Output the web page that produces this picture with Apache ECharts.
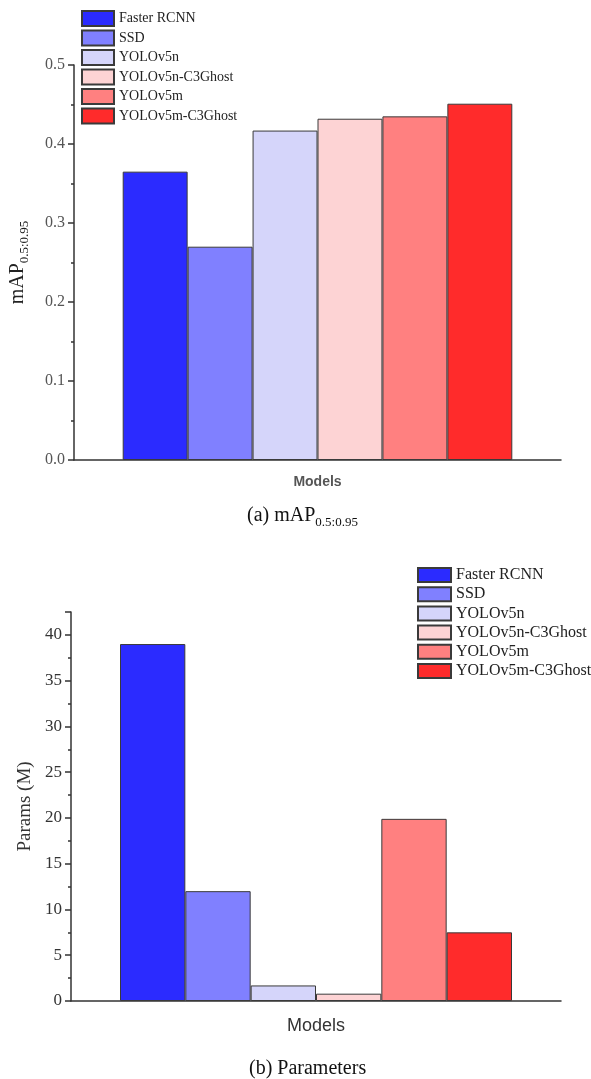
<!DOCTYPE html>
<html>
<head>
<meta charset="utf-8">
<script src="https://cdn.jsdelivr.net/npm/echarts@6/dist/echarts.min.js"></script>
<style>html,body{margin:0;padding:0;background:#fff;}#c{width:591px;height:1079px;}</style>
</head>
<body>
<div id="c"></div>
<script>
// ---- data ----
const categories = ['Models'];
const modelNames = ['Faster RCNN', 'SSD', 'YOLOv5n', 'YOLOv5n-C3Ghost', 'YOLOv5m', 'YOLOv5m-C3Ghost'];
const mapValues = [0.365, 0.270, 0.417, 0.432, 0.435, 0.451];
const paramValues = [39.0, 12.0, 1.7, 0.8, 19.9, 7.5];
const barColors = ['#2B2BFF', '#8080FF', '#D5D5FA', '#FDD3D4', '#FF8080', '#FF2B2B'];

const serif = 'Liberation Serif';
const chart = echarts.init(document.getElementById('c'), null, {renderer: 'canvas'});

function makeSeries(values, gridIdx) {
  return modelNames.map((name, i) => ({
    type: 'bar',
    name: name,
    xAxisIndex: gridIdx,
    yAxisIndex: gridIdx,
    data: [values[i]],
    barGap: '0%',
    barCategoryGap: '20%',
    itemStyle: {color: barColors[i], borderColor: '#3a3a3a', borderWidth: 1},
    emphasis: {disabled: true},
    animation: false
  }));
}

const axisLineStyle = {color: '#333', width: 1.5};

chart.setOption({
  animation: false,
  title: [
    {
      text: '{a|(a) mAP}{b|0.5:0.95}',
      left: 247, top: 503, padding: 0,
      textStyle: {
        fontWeight: 'normal',
        rich: {
          a: {fontFamily: serif, fontSize: 20, fontWeight: 'normal', color: '#111', lineHeight: 26, verticalAlign: 'middle'},
          b: {fontFamily: serif, fontSize: 13, fontWeight: 'normal', color: '#111', lineHeight: 26, verticalAlign: 'bottom'}
        }
      }
    },
    {
      text: '(b) Parameters',
      left: 249, top: 1059, padding: 0,
      textStyle: {fontFamily: serif, fontSize: 20, fontWeight: 'normal', color: '#111'}
    }
  ],
  legend: [
    {
      data: modelNames,
      orient: 'vertical',
      left: 81, top: 10, padding: 0,
      itemWidth: 32, itemHeight: 15, itemGap: 2.5,
      itemTextGap: 4,
      icon: 'rect',
      textStyle: {fontFamily: serif, fontSize: 14, color: '#222', lineHeight: 15},
      selectedMode: false
    },
    {
      data: modelNames,
      orient: 'vertical',
      left: 417, top: 567, padding: 0,
      itemWidth: 33, itemHeight: 14, itemGap: 3.2,
      itemTextGap: 4,
      icon: 'rect',
      textStyle: {fontFamily: serif, fontSize: 16, color: '#222', lineHeight: 16},
      selectedMode: false
    }
  ],
  grid: [
    {left: 71, right: 30, top: 65, height: 395},
    {left: 71, right: 30, top: 612, height: 389}
  ],
  xAxis: [0, 1].map(g => ({
    type: 'category',
    gridIndex: g,
    data: categories,
    name: 'Models',
    nameLocation: 'middle',
    nameGap: g === 0 ? 15 : 16,
    nameTextStyle: g === 0
      ? {fontFamily: 'Liberation Sans', fontSize: 14, fontWeight: 'bold', color: '#555'}
      : {fontFamily: 'Liberation Sans', fontSize: 18, color: '#333'},
    axisLine: {lineStyle: axisLineStyle},
    axisTick: {alignWithLabel: true, length: 7, lineStyle: {color: '#333', width: 1.5}},
    axisLabel: {show: false},
    splitLine: {show: false}
  })),
  yAxis: [
    {
      type: 'value', gridIndex: 0, min: 0, max: 0.5, interval: 0.1,
      name: '{a|mAP}{b|0.5:0.95}',
      nameLocation: 'middle', nameGap: 43,
      nameTextStyle: {
        rich: {
          a: {fontFamily: serif, fontSize: 20, color: '#222', lineHeight: 26, verticalAlign: 'middle'},
          b: {fontFamily: serif, fontSize: 13, color: '#222', lineHeight: 26, verticalAlign: 'bottom'}
        }
      },
      axisLine: {show: true, lineStyle: axisLineStyle},
      axisTick: {show: true, length: 6, lineStyle: {color: '#333', width: 1.5}},
      minorTick: {show: true, splitNumber: 2, length: 3, lineStyle: {color: '#333', width: 1.5}},
      axisLabel: {fontFamily: serif, fontSize: 16, color: '#555', margin: 9, formatter: v => v.toFixed(1)},
      splitLine: {show: false}
    },
    {
      type: 'value', gridIndex: 1, min: 0, max: 42.5, interval: 5,
      name: 'Params (M)',
      nameLocation: 'middle', nameGap: 34,
      nameTextStyle: {fontFamily: serif, fontSize: 19, color: '#333'},
      axisLine: {show: true, lineStyle: axisLineStyle},
      axisTick: {show: true, length: 6, lineStyle: {color: '#333', width: 1.5}},
      minorTick: {show: true, splitNumber: 2, length: 3, lineStyle: {color: '#333', width: 1.5}},
      axisLabel: {fontFamily: serif, fontSize: 17, color: '#333', margin: 9,
        formatter: v => (Math.abs(v % 5) < 1e-9 ? String(v) : '')},
      splitLine: {show: false}
    }
  ],
  series: makeSeries(mapValues, 0).concat(makeSeries(paramValues, 1))
});
</script>
</body>
</html>
